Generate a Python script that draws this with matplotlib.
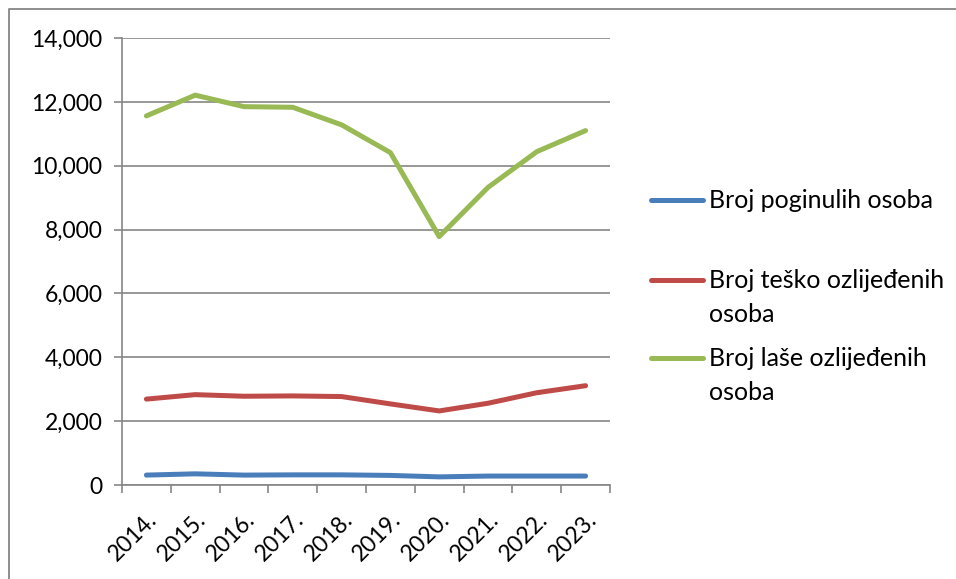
import matplotlib.pyplot as plt
from matplotlib.lines import Line2D
import matplotlib.transforms as mtransforms

plt.rcParams['font.family'] = ['Lato', 'DejaVu Sans']

# data
years = ['2014.', '2015.', '2016.', '2017.', '2018.', '2019.', '2020.', '2021.', '2022.', '2023.']
poginuli = [310, 350, 310, 318, 318, 300, 255, 280, 280, 280]
tesko = [2690, 2830, 2780, 2790, 2770, 2540, 2320, 2560, 2890, 3110]
lakse = [11560, 12210, 11850, 11830, 11280, 10410, 7780, 9320, 10440, 11100]
labels = ['Broj poginulih osoba', 'Broj teško ozlijeđenih\nosoba', 'Broj laše ozlijeđenih\nosoba']
colors = ['#4A7EBB', '#BE4B48', '#98B954']

W, H = 956, 579
fig = plt.figure(figsize=(W/100, H/100), dpi=100)
ax = fig.add_axes([122/W, 1-485/H, (610-122)/W, (485-38)/H])

# chart-area border (only top and left edges are in view)
fig.add_artist(Line2D([9/W, 9/W, 1], [0, 1-9/H, 1-9/H], color='#868686', lw=1.3,
                      transform=fig.transFigure))

x = range(len(years))
for vals, c in zip([poginuli, tesko, lakse], colors):
    ax.plot(x, vals, color=c, lw=3.6, solid_capstyle='round', solid_joinstyle='round')

ax.set_xlim(-0.5, len(years)-0.5)
ax.set_ylim(0, 14000)
ax.set_yticks(range(0, 14001, 2000))
ax.set_yticklabels([f'{v:,}' for v in range(0, 14001, 2000)], fontsize=16.5)
ax.yaxis.grid(True, color='#868686', lw=1.2)
ax.set_axisbelow(True)

# category ticks between years, labels at centers
ax.set_xticks([i - 0.5 for i in range(len(years)+1)])
ax.set_xticklabels([])
ax.set_xticks(list(x), minor=True)
ax.set_xticklabels(years, minor=True, rotation=45, ha='right', va='top', fontsize=16.5,
                   rotation_mode='anchor')
off = mtransforms.ScaledTranslation(6/100, 0, fig.dpi_scale_trans)
for t in ax.get_xticklabels(minor=True):
    t.set_transform(t.get_transform() + off)
ax.tick_params(axis='x', which='minor', length=0, pad=17)
ax.tick_params(axis='x', which='major', length=6, color='#868686', width=1.2)
ax.tick_params(axis='y', length=6, color='#868686', width=1.2, pad=8)

for s in ['top', 'right']:
    ax.spines[s].set_visible(False)
for s in ['left', 'bottom']:
    ax.spines[s].set_color('#868686')
    ax.spines[s].set_linewidth(1.2)

# legend drawn by hand to match layout
leg_y = [200, 280, 358]
for lab, c, yy in zip(labels, colors, leg_y):
    fy = 1 - yy/H
    fig.add_artist(Line2D([651/W, 703/W], [fy, fy], color=c, lw=3.6,
                          solid_capstyle='round', transform=fig.transFigure))
    for k, part in enumerate(lab.split('\n')):
        fig.text(709/W, 1 - (yy + k*34)/H, part, fontsize=18, va='center', ha='left')

fig.savefig('out.png', dpi=100)
